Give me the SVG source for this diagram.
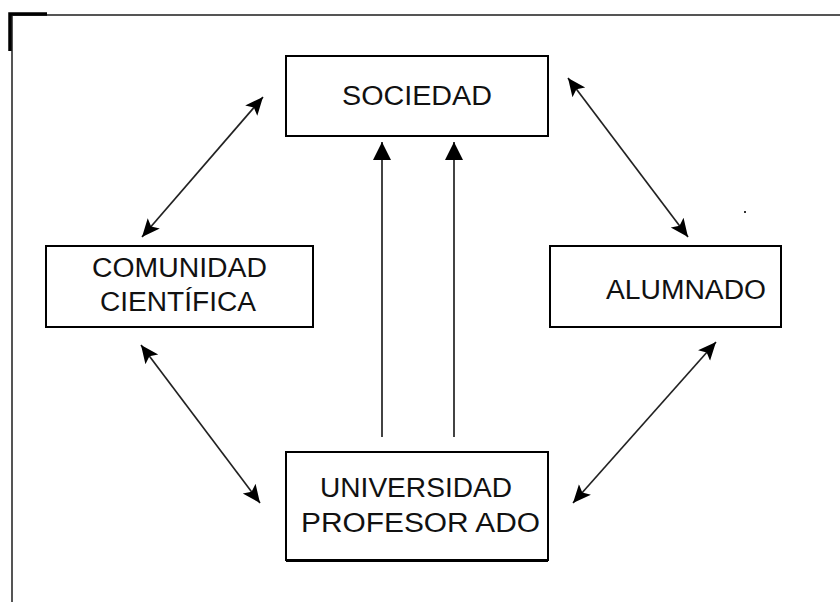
<svg xmlns="http://www.w3.org/2000/svg" width="840" height="602" viewBox="0 0 840 602">
<defs>
<marker id="ah" markerUnits="userSpaceOnUse" markerWidth="20" markerHeight="20" viewBox="0 0 20 20" refX="18" refY="10" orient="auto-start-reverse">
<path d="M0,2 L18,10 L0,18 L4,10 Z" fill="#000"/>
</marker>
<marker id="av" markerUnits="userSpaceOnUse" markerWidth="20" markerHeight="20" viewBox="0 0 20 20" refX="18" refY="10" orient="auto">
<path d="M0,1 L18,10 L0,19 Z" fill="#000"/>
</marker>
<style>
.box{fill:#fff;stroke:#000;stroke-width:2}
.t{font-family:"Liberation Sans",Arial,sans-serif;font-size:27px;fill:#111}
.c{fill:none;stroke:#222;stroke-width:1.7}
</style>
</defs>
<rect width="840" height="602" fill="#fff"/>
<g id="frame">
<path d="M12,602 V15 H840" fill="none" stroke="#555" stroke-width="2"/>
<path d="M10,51 V14 H47" fill="none" stroke="#000" stroke-width="3.5"/>
<rect x="744" y="211" width="2" height="2" fill="#333"/>
</g>
<g id="connectors">
<line class="c" x1="382" y1="437" x2="382" y2="142" marker-end="url(#av)"/>
<line class="c" x1="454" y1="437" x2="454" y2="142" marker-end="url(#av)"/>
<line class="c" x1="142" y1="237" x2="263" y2="97" marker-start="url(#ah)" marker-end="url(#ah)"/>
<line class="c" x1="568" y1="78" x2="688" y2="237" marker-start="url(#ah)" marker-end="url(#ah)"/>
<line class="c" x1="141" y1="345" x2="260" y2="503" marker-start="url(#ah)" marker-end="url(#ah)"/>
<line class="c" x1="716" y1="342" x2="573" y2="503" marker-start="url(#ah)" marker-end="url(#ah)"/>
</g>
<g id="sociedad">
<rect class="box" x="286" y="56" width="262" height="80"/>
<text class="t" x="342" y="105" textLength="150" lengthAdjust="spacingAndGlyphs">SOCIEDAD</text>
</g>
<g id="comunidad">
<rect class="box" x="46" y="246" width="267" height="81"/>
<text class="t" x="92" y="277" textLength="175" lengthAdjust="spacingAndGlyphs">COMUNIDAD</text>
<text class="t" x="100" y="311" textLength="156" lengthAdjust="spacingAndGlyphs">CIENTÍFICA</text>
</g>
<g id="alumnado">
<rect class="box" x="550" y="246" width="231" height="81"/>
<text class="t" x="606" y="299" textLength="160" lengthAdjust="spacingAndGlyphs">ALUMNADO</text>
</g>
<g id="universidad">
<rect class="box" x="286" y="452" width="262" height="108"/>
<line x1="286" y1="560.5" x2="548" y2="560.5" stroke="#000" stroke-width="3"/>
<text class="t" x="320" y="497" textLength="192" lengthAdjust="spacingAndGlyphs">UNIVERSIDAD</text>
<text class="t" x="301" y="532" textLength="239" lengthAdjust="spacingAndGlyphs">PROFESOR ADO</text>
</g>
</svg>
